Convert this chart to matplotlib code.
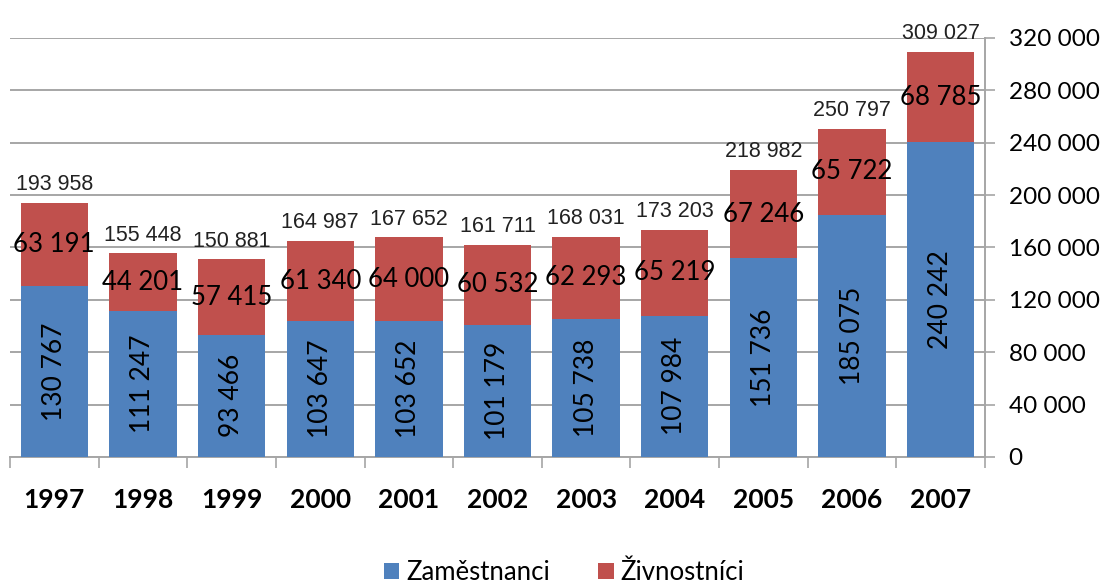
import matplotlib.pyplot as plt
import numpy as np

# Data
years = ['1997', '1998', '1999', '2000', '2001', '2002', '2003', '2004', '2005', '2006', '2007']
zamestnanci = [130767, 111247, 93466, 103647, 103652, 101179, 105738, 107984, 151736, 185075, 240242]
zivnostnici = [63191, 44201, 57415, 61340, 64000, 60532, 62293, 65219, 67246, 65722, 68785]
y_ticks = [0, 40000, 80000, 120000, 160000, 200000, 240000, 280000, 320000]

blue = '#4F81BD'
red = '#C0504D'
grid_col = '#A6A6A6'


def fmt(v):
    return f"{v:,}".replace(",", " ")


fig = plt.figure(figsize=(11.06, 5.88), dpi=100)
ax = fig.add_axes([0.009, 0.2228, 0.8816, 0.7126])

x = np.arange(len(years))
w = 0.76
totals = [a + b for a, b in zip(zamestnanci, zivnostnici)]

b1 = ax.bar(x, zamestnanci, w, color=blue, label='Zaměstnanci', zorder=3)
b2 = ax.bar(x, zivnostnici, w, bottom=zamestnanci, color=red, label='Živnostníci', zorder=3)

for i in range(len(years)):
    ax.text(x[i], zamestnanci[i] / 2, fmt(zamestnanci[i]), rotation=90,
            ha='center', va='center', fontsize=19, family='Lato', zorder=4)
    ax.text(x[i], zamestnanci[i] + zivnostnici[i] / 2, fmt(zivnostnici[i]),
            ha='center', va='center', fontsize=18.5, family='Lato', zorder=4)
    ax.text(x[i], totals[i] + 6000, fmt(totals[i]), ha='center', va='bottom',
            fontsize=15.5, family='Liberation Sans', color='#222222', zorder=4)

ax.set_xlim(-0.5, len(years) - 0.5)
ax.set_ylim(0, 320000)

# horizontal grid
ax.set_yticks(y_ticks)
ax.set_yticklabels([fmt(v) for v in y_ticks], fontsize=17.5, family='Lato')
ax.yaxis.tick_right()
ax.yaxis.grid(True, color=grid_col, linewidth=1.4, zorder=0)
ax.tick_params(axis='y', length=7, width=1.2, color=grid_col, pad=10)

# category axis with ticks between the bars
ax.set_xticks(x)
ax.set_xticklabels(years, fontsize=19, family='Lato', fontweight='bold')
ax.set_xticks(np.arange(-0.5, len(years)), minor=True)
ax.tick_params(axis='x', which='major', length=0, pad=22)
ax.tick_params(axis='x', which='minor', length=8, width=1.2, color=grid_col)

for s in ['top', 'left']:
    ax.spines[s].set_visible(False)
ax.spines['right'].set_color(grid_col)
ax.spines['right'].set_linewidth(1.4)
ax.spines['bottom'].set_color(grid_col)
ax.spines['bottom'].set_linewidth(1.4)

fig.legend(handles=[b1, b2], loc='center', bbox_to_anchor=(0.51, 0.026), ncol=2,
           frameon=False, prop={'family': 'Lato', 'size': 18.5},
           handlelength=0.6, handleheight=0.6, handletextpad=0.25, columnspacing=1.9)

fig.savefig('out.png', dpi=100)
